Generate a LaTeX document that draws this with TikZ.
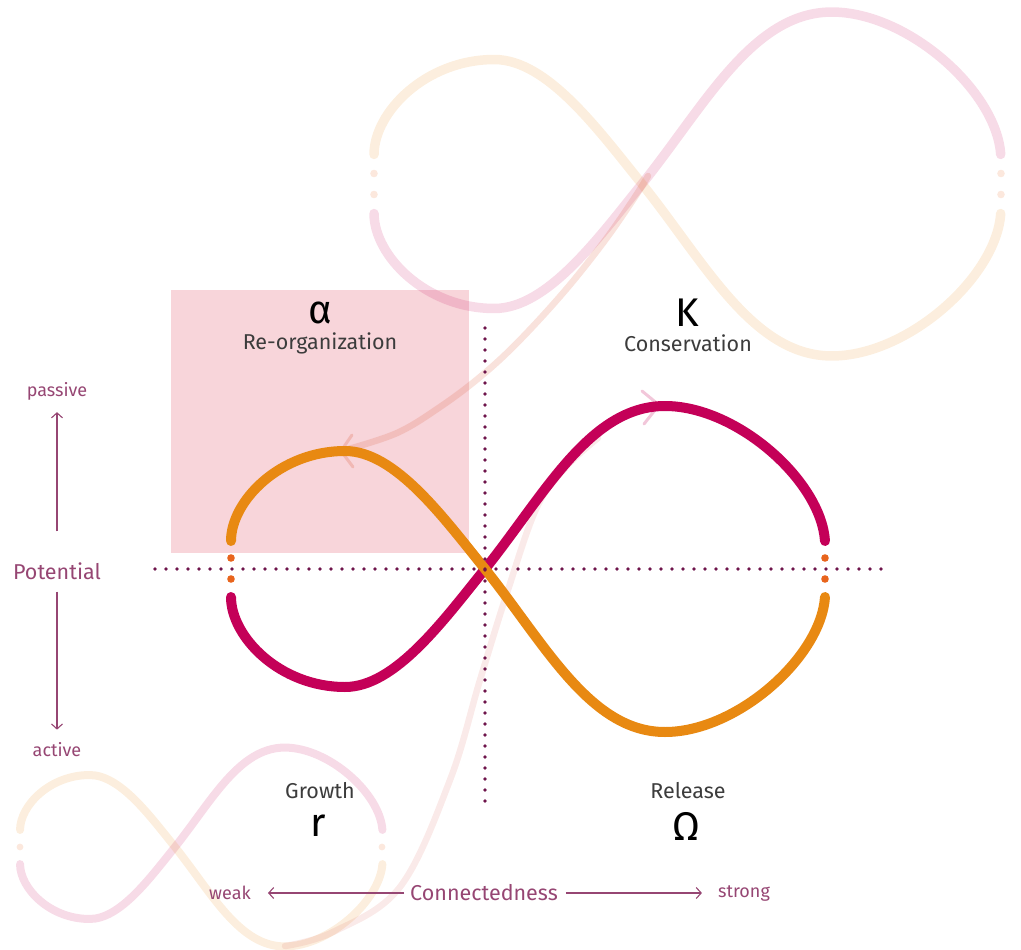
\documentclass[tikz,border=0pt]{standalone}
\usepackage{fontspec}
\setmainfont{Fira Sans}
\usetikzlibrary{arrows.meta}
\definecolor{crim}{RGB}{196,0,88}
\definecolor{orng}{RGB}{232,137,18}
\definecolor{dotor}{RGB}{232,100,28}
\definecolor{boxpink}{RGB}{248,213,218}
\definecolor{dotpurp}{RGB}{110,20,75}
\definecolor{mauve}{RGB}{150,70,115}
\definecolor{labgray}{RGB}{60,60,60}
\newcommand{\infshape}[5]{%
 \begin{scope}[shift={(#1,#2)},scale=#3]
  \draw[#5] (-254,28) .. controls (-254,68) and (-205,118) .. (-140,118) .. controls (-90,118) and (-42,52) .. (0,0) .. controls (60,-75) and (105,-163) .. (180,-163) .. controls (252,-163) and (336,-88) .. (340,-28);
  \draw[#4] (-254,-28) .. controls (-254,-68) and (-205,-118) .. (-140,-118) .. controls (-90,-118) and (-42,-52) .. (0,0) .. controls (60,75) and (105,163) .. (180,163) .. controls (252,163) and (336,88) .. (340,28);
 \end{scope}}
\tikzset{
  mainO/.style={draw=orng, line width=10pt, line cap=round},
  mainC/.style={draw=crim, line width=10pt, line cap=round},
  fadeO/.style={draw=orng, draw opacity=0.14, line width=#1, line cap=round},
  fadeC/.style={draw=crim, draw opacity=0.14, line width=#1, line cap=round},
  dotline/.style={draw=dotpurp, line width=3.6pt, line cap=round, dash pattern=on 0pt off 11pt},
  axisarrow/.style={draw=mauve, line width=1.1pt, -{Straight Barb[length=5pt,width=11pt]}},
  biglab/.style={font=\fontsize{40}{40}\selectfont, text=black, inner sep=0pt},
  phaselab/.style={font=\fontsize{21.5}{21.5}\selectfont, text=labgray, inner sep=0pt},
  axislab/.style={font=\fontsize{21.5}{21.5}\selectfont, text=mauve, inner sep=0pt},
  endlab/.style={font=\fontsize{18}{18}\selectfont, text=mauve, inner sep=0pt},
}
\begin{document}
\begin{tikzpicture}[x=1pt,y=-1pt]
\useasboundingbox (0,0) rectangle (1021,950);
% pink reorganization box
\fill[boxpink] (171,290) rectangle (469,553);
% faded large infinity (top right)
\infshape{642}{184}{1.055}{fadeO=9.5pt}{fadeC=9.5pt}
\fill[dotor, opacity=0.15] (374,173.5) circle (3.8) (374,194.5) circle (3.8) (1001,173.5) circle (3.8) (1001,194.5) circle (3.8);
% faded small infinity (bottom left)
\infshape{175}{847}{0.61}{fadeO=8pt}{fadeC=8pt}
\fill[dotor, opacity=0.15] (20,847) circle (3.4) (382,847) circle (3.4);
% connector from large K down to alpha
\draw[draw=orng!60!crim, draw opacity=0.17, line width=6.5pt, line cap=round] plot[smooth, tension=0.6] coordinates {(648,176) (633,200) (603,243) (563,293) (517,343) (480,377) (440,407) (397,433) (345,450)};
\draw[draw=orng!60!crim, draw opacity=0.22, line width=3pt, line cap=round, line join=round] (352,435) -- (341,451) -- (353,467);
% connector from small Omega up to K
\draw[draw=orng!50!crim, draw opacity=0.11, line width=6.5pt, line cap=round] plot[smooth, tension=0.6] coordinates {(285,946) (333,932) (400,887) (450,780) (480,680) (507,593) (537,507) (567,466) (598,438)};
% main infinity
\infshape{485}{569}{1}{mainO}{mainC}
\draw[draw=crim, draw opacity=0.22, line width=3pt, line cap=round, line join=round] (642,391) -- (659,405) -- (644,424);
\fill[dotor] (231,558) circle (3.8) (231,579) circle (3.8) (825,558) circle (3.8) (825,579) circle (3.8);
% dotted axes
\draw[dotline] (155,569) -- (890,569);
\draw[dotline] (485,328) -- (485,803);
% phase labels
\node[biglab] (alpha) at (320,313) {α};
\node[phaselab] (reorg) at (320,343) {Re-organization};
\node[biglab] (kay) at (687,313) {K};
\node[phaselab] (cons) at (688,343) {Conservation};
\node[phaselab] (growth) at (320,791) {Growth};
\node[biglab] (arr) at (318,826) {r};
\node[phaselab] (rel) at (688,791) {Release};
\node[biglab] (omega) at (686,826) {Ω};
% axes
\node[axislab] (pot) at (57,571) {Potential};
\node[endlab] (passive) at (57,391) {passive};
\node[endlab] (active) at (57,750) {active};
\draw[axisarrow, shorten <=31pt, shorten >=12pt] (pot) -- (passive);
\draw[axisarrow, shorten <=12pt, shorten >=13pt] (pot) -- (active);
\node[axislab] (conn) at (484,893) {Connectedness};
\node[endlab] (weak) at (230,893) {weak};
\node[endlab] (strong) at (744,893) {strong};
\draw[axisarrow, shorten <=6pt, shorten >=17pt] (conn) -- (weak);
\draw[axisarrow, shorten <=8pt, shorten >=16pt] (conn) -- (strong);
\end{tikzpicture}
\end{document}
